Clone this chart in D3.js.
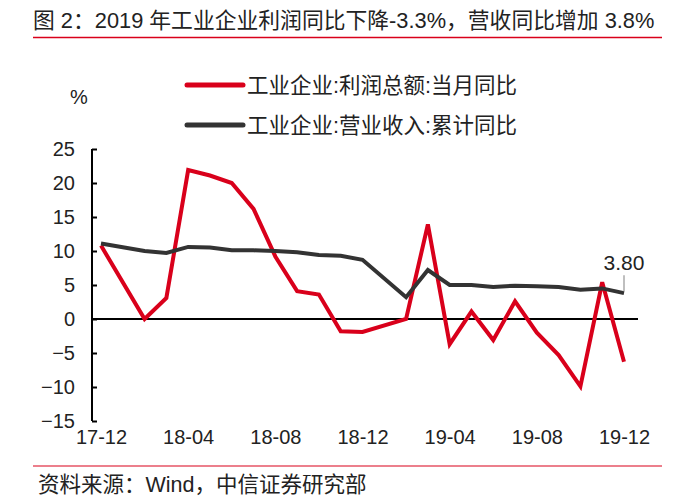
<!DOCTYPE html>
<html><head><meta charset="utf-8">
<script src="https://cdn.jsdelivr.net/npm/d3@7"></script>
<style>
body{margin:0;background:#fff;}
text{font-family:"Liberation Sans","Noto Sans CJK SC",sans-serif;}
</style></head>
<body><svg id="c" width="700" height="500"></svg>
<script>
const months = ["17-12","18-01","18-02","18-03","18-04","18-05","18-06","18-07","18-08","18-09","18-10","18-11","18-12",
                "19-01","19-02","19-03","19-04","19-05","19-06","19-07","19-08","19-09","19-10","19-11","19-12"];
const profitYoY = [10.8,null,0.0,3.1,21.9,21.1,20.0,16.2,9.2,4.1,3.6,-1.8,-1.9,
                   null,0.0,13.9,-3.7,1.1,-3.1,2.6,-2.0,-5.3,-9.9,5.4,-6.3];
const revenueYoY = [11.1,null,10.0,9.7,10.6,10.5,10.1,10.1,10.0,9.8,9.4,9.3,8.7,
                    null,3.2,7.2,5.0,5.0,4.7,4.9,4.8,4.7,4.3,4.5,3.8];
const xTickLabels = ["17-12","18-04","18-08","18-12","19-04","19-08","19-12"];
const yTicks = [25,20,15,10,5,0,-5,-10,-15];
const seriesNames = ["工业企业:利润总额:当月同比","工业企业:营业收入:累计同比"];
const colors = ["#d9001b","#333333"];
const titleText = "图 2：2019 年工业企业利润同比下降-3.3%，营收同比增加 3.8%";
const sourceText = "资料来源：Wind，中信证券研究部";

const svg = d3.select("#c");
const x = d3.scalePoint().domain(months).range([101,624]);
const y = d3.scaleLinear().domain([-15,25]).range([421,149]);

// title
svg.append("text").attr("x",33).attr("y",28).attr("font-size",21.8).attr("fill","#222").text(titleText);
svg.append("line").attr("x1",33).attr("x2",662).attr("y1",37.5).attr("y2",37.5).attr("stroke","#d9001b").attr("stroke-width",1.5);

// unit
svg.append("text").attr("x",70).attr("y",104).attr("font-size",20).attr("fill","#222").text("%");

// y axis
const yAxis = d3.axisLeft(y).tickValues(yTicks).tickSize(-5).tickPadding(17).tickFormat(d3.format("d"));
const ga = svg.append("g").attr("transform","translate(92,0)").call(yAxis);
ga.select(".domain").attr("stroke","#000").attr("stroke-width",2).attr("d","M0,"+y(25)+"V"+y(-15));
ga.selectAll(".tick line").attr("stroke","#000").attr("stroke-width",2);
ga.selectAll(".tick text").attr("font-size",20).attr("fill","#222").attr("font-family","Liberation Sans, sans-serif");

// zero line
svg.append("line").attr("x1",92).attr("x2",638).attr("y1",y(0)).attr("y2",y(0)).attr("stroke","#000").attr("stroke-width",2);

// x labels
const xAxis = d3.axisBottom(x).tickValues(xTickLabels).tickSize(0).tickPadding(0);
const gx = svg.append("g").attr("transform","translate(0,430)").call(xAxis);
gx.select(".domain").remove();
gx.selectAll(".tick text").attr("font-size",20).attr("fill","#222").attr("font-family","Liberation Sans, sans-serif").attr("dy","0.71em").attr("y",0);

// lines
const line = d3.line().x(d=>x(d.m)).y(d=>y(d.v));
[profitYoY, revenueYoY].forEach((arr,i)=>{
  const pts = months.map((m,j)=>({m, v: arr[j]})).filter(d=>d.v!==null);
  svg.append("path").datum(pts).attr("d",line).attr("fill","none")
    .attr("stroke",colors[i]).attr("stroke-width",4).attr("stroke-linejoin","miter");
});

// end label
const lastM = months[months.length-1], lastV = revenueYoY[revenueYoY.length-1];
svg.append("line").attr("x1",x(lastM)).attr("x2",x(lastM)).attr("y1",y(lastV)-2).attr("y2",y(lastV)-18)
  .attr("stroke","#aaa").attr("stroke-width",1.5);
svg.append("text").attr("x",x(lastM)).attr("y",y(lastV)-23).attr("text-anchor","middle").attr("font-size",21).attr("fill","#222").text(lastV.toFixed(2));

// legend
seriesNames.forEach((n,i)=>{
  const ly = 85 + i*40;
  svg.append("line").attr("x1",187).attr("x2",243).attr("y1",ly).attr("y2",ly).attr("stroke",colors[i]).attr("stroke-width",5).attr("stroke-linecap","round");
  svg.append("text").attr("x",247).attr("y",ly).attr("dy","0.36em").attr("font-size",21.5).attr("fill","#222").text(n);
});

// source
svg.append("line").attr("x1",33).attr("x2",662).attr("y1",466).attr("y2",466).attr("stroke","#d9001b").attr("stroke-width",1.2);
svg.append("text").attr("x",38).attr("y",492).attr("font-size",21.5).attr("fill","#222").text(sourceText);
</script></body></html>
